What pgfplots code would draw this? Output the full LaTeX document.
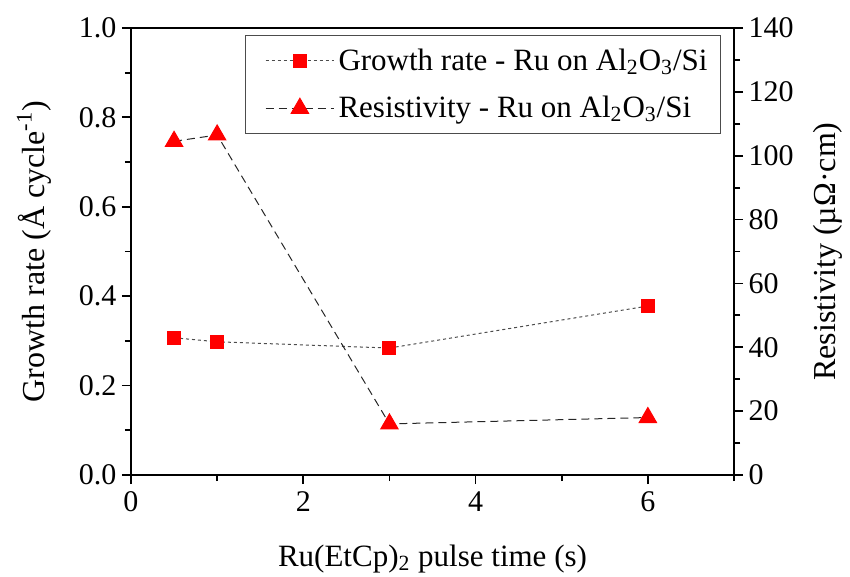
\documentclass[border=0pt]{standalone}
\usepackage{pgfplots}
\pgfplotsset{compat=1.18}
\usepackage{fontspec}
\setmainfont{Liberation Serif}
\begin{document}
\begin{tikzpicture}
\pgfplotsset{
  every axis/.append style={font=\fontsize{15}{17}\selectfont, line width=0.9pt,
    /pgf/number format/assume math mode=true},
  every tick/.style={black, line width=0.9pt},
}
\begin{axis}[
  name=ax,
  width=301.5pt, height=223.5pt, scale only axis,
  xmin=0, xmax=7, ymin=0, ymax=1,
  axis x line*=bottom, axis y line*=left,
  xtick={0,2,4,6}, minor xtick={1,3,5,7},
  ytick={0,0.2,...,1.0}, minor ytick={0.1,0.3,0.5,0.7,0.9},
  tick align=outside, major tick length=4.5pt, minor tick length=3pt,
  yticklabel style={/pgf/number format/fixed, /pgf/number format/precision=1, /pgf/number format/fixed zerofill, xshift=1pt},
  xlabel={Ru(EtCp)\textsubscript{2} pulse time (s)},
  ylabel={Growth rate (Å cycle\textsuperscript{-1})},
  xlabel style={at={([yshift=-45.5pt]axis description cs:0.5,0)}, anchor=base, font=\fontsize{15.5}{18}\selectfont},
  ylabel style={at={([xshift=-48.5pt]axis description cs:0,0.5)}, anchor=center, rotate=0, font=\fontsize{16}{18}\selectfont},
]
\addplot[dash pattern=on 1.5pt off 1.5pt, line width=0.5pt, black!70, mark=square*, mark size=3.25pt,
  mark options={solid, fill=red, draw=red}]
  coordinates {(0.5,0.307) (1,0.298) (3,0.284) (6,0.378)};
\end{axis}
\begin{axis}[
  width=301.5pt, height=223.5pt, scale only axis,
  xmin=0, xmax=7, ymin=0, ymax=140,
  axis x line=none, axis y line*=right,
  ytick={0,20,...,140}, minor ytick={10,30,...,130},
  tick align=outside, major tick length=4.5pt, minor tick length=3pt,
  yticklabel style={xshift=-1pt},
  ylabel={Resistivity (µΩ·cm)},
  ylabel style={at={([xshift=47pt]axis description cs:1,0.5)}, anchor=center, font=\fontsize{16}{18}\selectfont},
  legend style={at={([xshift=-6.5pt,yshift=-3.5pt]rel axis cs:1,1)}, anchor=north east, draw=black!70, line width=0.5pt,
    font=\fontsize{15.5}{18}\selectfont, row sep=7.5pt, inner sep=4.5pt},
  legend cell align=left,
  legend image code/.code={
    \path (-5.5pt,0pt);
    \draw[mark repeat=2,mark phase=2] plot coordinates {(0cm,0cm) (0.6cm,0cm) (1.2cm,0cm)};},
]
\draw[line width=0.9pt] (rel axis cs:0,1) -- (rel axis cs:1,1);
\addlegendimage{dash pattern=on 1.5pt off 1.5pt, line width=0.5pt, black!70, mark=square*, mark size=3.25pt,
  mark options={solid, fill=red, draw=red}}
\addlegendentry{Growth rate - Ru on Al\textsubscript{2}O\textsubscript{3}/Si}
\addplot[dash pattern=on 4pt off 2.5pt, line width=0.5pt, black!85, mark=triangle*, mark size=5pt,
  mark options={solid, fill=red, draw=red}]
  coordinates {(0.5,104.5) (1,106.5) (3,16) (6,18)};
\addlegendentry{Resistivity - Ru on Al\textsubscript{2}O\textsubscript{3}/Si}
\end{axis}
\pgfresetboundingbox
\path ([xshift=-65.5pt,yshift=-51pt]ax.south west) rectangle ([xshift=58pt,yshift=14pt]ax.north east);
\end{tikzpicture}
\end{document}
